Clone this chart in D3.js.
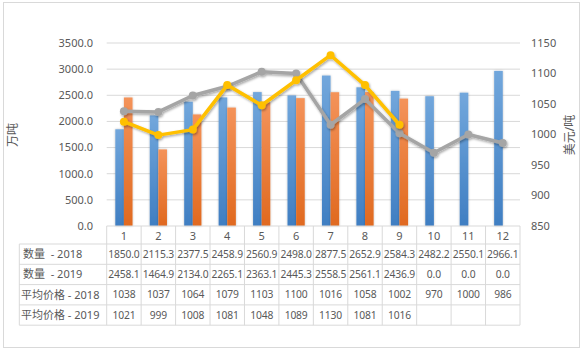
<!DOCTYPE html>
<html>
<head>
<meta charset="utf-8">
<script src="https://cdn.jsdelivr.net/npm/d3@7"></script>
<style>
  body { margin: 0; background: #fff; }
  svg { display: block; font-family: "Noto Sans", "Noto Sans CJK SC", sans-serif; }
</style>
</head>
<body>
<div id="chart"></div>
<script>
// data
var months = ["1","2","3","4","5","6","7","8","9","10","11","12"];
var qty2018 = [1850.0,2115.3,2377.5,2458.9,2560.9,2498.0,2877.5,2652.9,2584.3,2482.2,2550.1,2966.1];
var qty2019 = [2458.1,1464.9,2134.0,2265.1,2363.1,2445.3,2558.5,2561.1,2436.9,0.0,0.0,0.0];
var price2018 = [1038,1037,1064,1079,1103,1100,1016,1058,1002,970,1000,986];
var price2019 = [1021,999,1008,1081,1048,1089,1130,1081,1016,null,null,null];
var leftTicks = [0,500,1000,1500,2000,2500,3000,3500];
var rightTicks = [850,900,950,1000,1050,1100,1150];
var rowLabels = ["数量  - 2018","数量  - 2019","平均价格 - 2018","平均价格 - 2019"];

var W = 583, H = 351;
var plot = {left: 106.7, right: 520, top: 43, bottom: 226};
var tableLeft = 19.3, rowH = 20.3, headH = 18;
var textCol = "#595959", gridCol = "#d9d9d9";

var svg = d3.select("#chart").append("svg").attr("width", W).attr("height", H);
var defs = svg.append("defs");

// gradients for bars
function grad(id, top, bot) {
  var g = defs.append("linearGradient").attr("id", id)
    .attr("x1", 0).attr("y1", 0).attr("x2", 0).attr("y2", 1);
  g.append("stop").attr("offset", "0%").attr("stop-color", top);
  g.append("stop").attr("offset", "100%").attr("stop-color", bot);
}
grad("gBlue", "#72a7dc", "#3f7ec2");
grad("gOrange", "#f4935a", "#e0691f");

var sh = defs.append("filter").attr("id", "shadow")
  .attr("x", "-20%").attr("y", "-20%").attr("width", "140%").attr("height", "140%");
sh.append("feDropShadow").attr("dx", 1).attr("dy", 1.5).attr("stdDeviation", 1)
  .attr("flood-color", "#000").attr("flood-opacity", 0.35);
var sh2 = defs.append("filter").attr("id", "glow")
  .attr("x", "-40%").attr("y", "-5%").attr("width", "180%").attr("height", "110%");
sh2.append("feDropShadow").attr("dx", 0).attr("dy", 0).attr("stdDeviation", 0.8)
  .attr("flood-color", "#000").attr("flood-opacity", 0.25);

// outer border
svg.append("rect").attr("x", 3.5).attr("y", 2.5).attr("width", 576).attr("height", 345)
  .attr("fill", "#fff").attr("stroke", gridCol);

// scales
var x = d3.scaleBand().domain(months).range([plot.left, plot.right]).padding(0);
var bw = x.bandwidth();
var xs = d3.scaleBand().domain(["2018","2019"]).range([bw * 0.25, bw * 0.75]);
var yL = d3.scaleLinear().domain([0, 3500]).range([plot.bottom, plot.top]);
var yR = d3.scaleLinear().domain([850, 1150]).range([plot.bottom, plot.top]);

// gridlines
svg.append("g").selectAll("line").data(leftTicks.slice(1)).enter().append("line")
  .attr("x1", plot.left).attr("x2", plot.right)
  .attr("y1", function(d){ return yL(d); }).attr("y2", function(d){ return yL(d); })
  .attr("stroke", gridCol).attr("stroke-width", 1);

// left axis labels
svg.append("g").selectAll("text").data(leftTicks).enter().append("text")
  .attr("x", 93).attr("y", function(d){ return yL(d); })
  .attr("dy", "0.35em").attr("text-anchor", "end")
  .attr("fill", textCol).style("font-size", "11px")
  .text(function(d){ return d.toFixed(1); });

// right axis labels
svg.append("g").selectAll("text").data(rightTicks).enter().append("text")
  .attr("x", 531).attr("y", function(d){ return yR(d); })
  .attr("dy", "0.35em").attr("text-anchor", "start")
  .attr("fill", textCol).style("font-size", "11px")
  .text(function(d){ return d; });

// axis titles
svg.append("text").attr("transform", "translate(13,135) rotate(-90)")
  .attr("text-anchor", "middle").attr("dy", "0.35em")
  .attr("fill", textCol).style("font-size", "12px").text("万吨");
svg.append("text").attr("transform", "translate(570,135) rotate(-90)")
  .attr("text-anchor", "middle").attr("dy", "0.35em")
  .attr("fill", textCol).style("font-size", "12px").text("美元/吨");

// bars
var series = [{key: "2018", vals: qty2018, fill: "url(#gBlue)"},
              {key: "2019", vals: qty2019, fill: "url(#gOrange)"}];
var bars = svg.append("g");
series.forEach(function(s) {
  bars.append("g").attr("filter", "url(#glow)").selectAll("rect")
    .data(s.vals).enter().append("rect")
    .attr("x", function(d, i){ return x(months[i]) + xs(s.key); })
    .attr("width", xs.bandwidth())
    .attr("y", function(d){ return yL(d); })
    .attr("height", function(d){ return yL(0) - yL(d); })
    .attr("fill", s.fill);
});

// axis line
svg.append("line").attr("x1", plot.left).attr("x2", plot.right)
  .attr("y1", plot.bottom).attr("y2", plot.bottom).attr("stroke", gridCol);

// price lines
var lines = [{vals: price2018, col: "#a5a5a5"}, {vals: price2019, col: "#ffc000"}];
lines.forEach(function(l) {
  var pts = l.vals.map(function(v, i){ return {m: months[i], v: v}; })
    .filter(function(p){ return p.v !== null; });
  var g = svg.append("g").attr("filter", "url(#shadow)");
  g.append("path").datum(pts)
    .attr("d", d3.line().x(function(p){ return x(p.m) + bw / 2; }).y(function(p){ return yR(p.v); }))
    .attr("fill", "none").attr("stroke", l.col).attr("stroke-width", 3.5)
    .attr("stroke-linejoin", "round");
  g.selectAll("circle").data(pts).enter().append("circle")
    .attr("cx", function(p){ return x(p.m) + bw / 2; })
    .attr("cy", function(p){ return yR(p.v); })
    .attr("r", 4).attr("fill", l.col);
});

// data table
var tbl = svg.append("g");
var rows = [
  qty2018.map(function(d){ return d.toFixed(1); }),
  qty2019.map(function(d){ return d.toFixed(1); }),
  price2018.map(function(d){ return String(d); }),
  price2019.map(function(d){ return d === null ? "" : String(d); })
];
var rowTop = plot.bottom + headH;
// header cells: vertical separators
months.forEach(function(m, i) {
  tbl.append("line").attr("x1", x(m)).attr("x2", x(m))
    .attr("y1", plot.bottom).attr("y2", rowTop).attr("stroke", gridCol);
  tbl.append("text").attr("x", x(m) + bw / 2).attr("y", plot.bottom + headH / 2 + 1)
    .attr("dy", "0.35em").attr("text-anchor", "middle")
    .attr("fill", textCol).style("font-size", "11px").text(m);
});
tbl.append("line").attr("x1", plot.right).attr("x2", plot.right)
  .attr("y1", plot.bottom).attr("y2", rowTop).attr("stroke", gridCol);

// horizontal lines
d3.range(rows.length + 1).forEach(function(r) {
  tbl.append("line").attr("x1", tableLeft).attr("x2", plot.right)
    .attr("y1", rowTop + r * rowH).attr("y2", rowTop + r * rowH).attr("stroke", gridCol);
});
// vertical lines
var vx = [tableLeft].concat(months.map(function(m){ return x(m); }), [plot.right]);
vx.forEach(function(v) {
  tbl.append("line").attr("x1", v).attr("x2", v)
    .attr("y1", rowTop).attr("y2", rowTop + rows.length * rowH).attr("stroke", gridCol);
});
rows.forEach(function(r, ri) {
  var cy = rowTop + ri * rowH + rowH / 2;
  tbl.append("text").attr("x", ri < 2 ? 23 : 21).attr("y", cy).attr("dy", "0.35em")
    .attr("fill", textCol).style("font-size", "11px").attr("xml:space", "preserve")
    .text(rowLabels[ri]);
  r.forEach(function(v, i) {
    tbl.append("text").attr("x", x(months[i]) + bw / 2).attr("y", cy).attr("dy", "0.35em")
      .attr("text-anchor", "middle").attr("fill", textCol).style("font-size", "10.3px")
      .style("letter-spacing", "-0.15px")
      .text(v);
  });
});
</script>
</body>
</html>
